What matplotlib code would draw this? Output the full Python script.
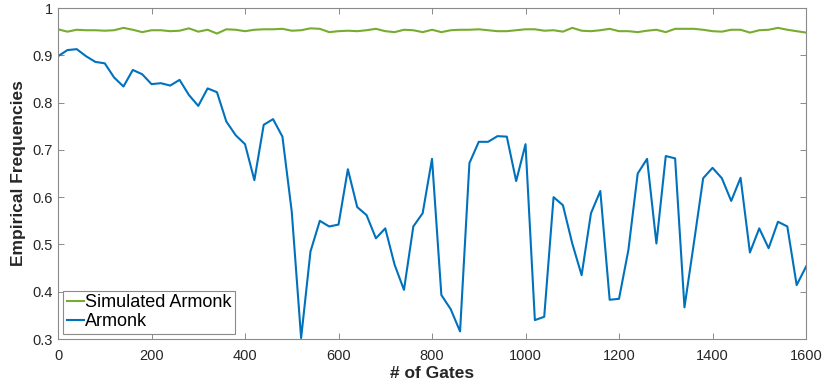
import matplotlib.pyplot as plt
from matplotlib.ticker import FixedLocator, FixedFormatter

plt.rcParams['font.family'] = ['Liberation Sans', 'DejaVu Sans']

# number of gates
gates = list(range(0, 1601, 20))

# simulated device
simulated = [0.955, 0.950, 0.954, 0.953, 0.953, 0.952, 0.953, 0.958, 0.954, 0.949,
             0.953, 0.953, 0.951, 0.952, 0.957, 0.950, 0.954, 0.946, 0.955, 0.954,
             0.951, 0.954, 0.955, 0.955, 0.956, 0.952, 0.953, 0.957, 0.956, 0.949,
             0.951, 0.952, 0.951, 0.953, 0.956, 0.951, 0.949, 0.954, 0.953, 0.949,
             0.954, 0.949, 0.953, 0.954, 0.954, 0.955, 0.953, 0.951, 0.951, 0.953,
             0.955, 0.955, 0.952, 0.953, 0.950, 0.958, 0.952, 0.951, 0.953, 0.956,
             0.951, 0.951, 0.949, 0.952, 0.954, 0.949, 0.956, 0.956, 0.956, 0.954,
             0.951, 0.950, 0.954, 0.954, 0.948, 0.953, 0.954, 0.958, 0.954, 0.951,
             0.948]

# real device
armonk = [0.898, 0.911, 0.913, 0.898, 0.886, 0.883, 0.853, 0.834, 0.869, 0.860,
          0.839, 0.841, 0.836, 0.848, 0.816, 0.793, 0.830, 0.822, 0.760, 0.731,
          0.712, 0.636, 0.753, 0.765, 0.728, 0.569, 0.302, 0.485, 0.550, 0.538,
          0.542, 0.659, 0.579, 0.562, 0.513, 0.534, 0.457, 0.404, 0.538, 0.566,
          0.681, 0.393, 0.363, 0.316, 0.672, 0.717, 0.717, 0.729, 0.728, 0.634,
          0.712, 0.340, 0.347, 0.600, 0.583, 0.502, 0.435, 0.566, 0.613, 0.383,
          0.385, 0.488, 0.650, 0.681, 0.502, 0.687, 0.682, 0.367, 0.502, 0.640,
          0.662, 0.640, 0.592, 0.641, 0.483, 0.534, 0.492, 0.548, 0.538, 0.414,
          0.453]

xticks = [0, 200, 400, 600, 800, 1000, 1200, 1400, 1600]
yticks = [0.3, 0.4, 0.5, 0.6, 0.7, 0.8, 0.9, 1.0]
ylabels = ['0.3', '0.4', '0.5', '0.6', '0.7', '0.8', '0.9', '1']

fig = plt.figure(figsize=(8.3, 3.87), dpi=100)
ax = fig.add_axes([0.0699, 0.124, 0.9012, 0.8553])

ax.plot(gates, simulated, color='#77AC30', lw=1.5, label='Simulated Armonk')
ax.plot(gates, armonk, color='#0072BD', lw=1.5, label='Armonk')

ax.set_xlim(0, 1600)
ax.set_ylim(0.3, 1)
ax.xaxis.set_major_locator(FixedLocator(xticks))
ax.yaxis.set_major_locator(FixedLocator(yticks))
ax.yaxis.set_major_formatter(FixedFormatter(ylabels))
ax.tick_params(direction='in', top=True, right=True, length=4, width=0.7,
               color='#8a8a8a', labelsize=10.5, labelcolor='#262626')
ax.tick_params(axis='x', pad=7)
for s in ax.spines.values():
    s.set_color('#8a8a8a')
    s.set_linewidth(0.8)

ax.set_xlabel('# of Gates', fontsize=12.5, fontweight='bold', labelpad=2,
              color='#262626')
ax.set_ylabel('Empirical Frequencies', fontsize=12.5, fontweight='bold',
              labelpad=5, color='#262626')

leg = ax.legend(loc='lower left', fontsize=13, fancybox=False, framealpha=1,
                edgecolor='#8a8a8a', handlelength=0.95, handletextpad=0.05,
                borderpad=0.2, labelspacing=0.1, borderaxespad=0.3)
leg.get_frame().set_linewidth(0.8)

fig.savefig('out.png', dpi=100)
